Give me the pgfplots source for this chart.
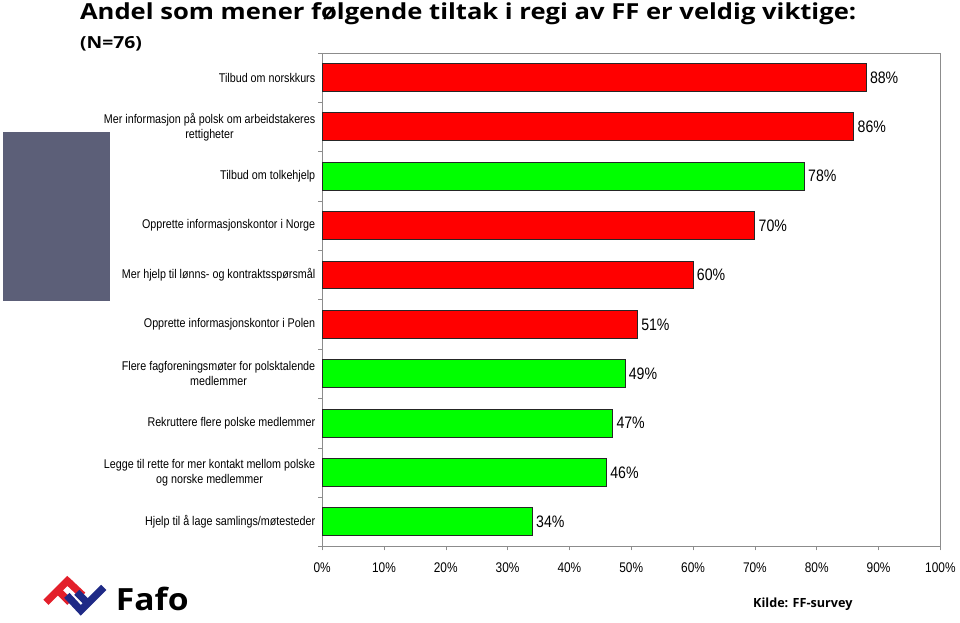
\documentclass[border=0pt]{standalone}
\usepackage{pgfplots}
\pgfplotsset{compat=1.18}
\usepackage{fontspec}
\setmainfont{Liberation Sans}
\newfontfamily\cond[FakeStretch=0.85]{Liberation Sans}
\newfontfamily\titlefont[FakeStretch=1.16]{Open Sans}
\newfontfamily\logofont[FakeStretch=1.1]{Open Sans}
\newfontfamily\srcfont{Open Sans}
\definecolor{barred}{HTML}{FF0000}
\definecolor{bargreen}{HTML}{00FF00}
\definecolor{slate}{HTML}{5C5F78}
\definecolor{fafored}{HTML}{E3202B}
\definecolor{fafoblue}{HTML}{1F2A86}
\definecolor{axgray}{HTML}{8C8C8C}
\begin{document}
\begin{tikzpicture}
\begin{scope}[x=0.75pt,y=-0.75pt]
\path[use as bounding box] (0,0) rectangle (960,624);
\fill[slate] (3,132) rectangle (110,302);
\node[anchor=base west, inner sep=0, font=\titlefont\bfseries\fontsize{16.6}{19}\selectfont] at (80,20) {Andel som mener følgende tiltak i regi av FF er veldig viktige:};
\node[anchor=base west, inner sep=0, font=\titlefont\bfseries\fontsize{12.5}{14}\selectfont] at (80,49) {(N=76)};
\node[anchor=base west, inner sep=0, font=\srcfont\bfseries\fontsize{9.5}{12}\selectfont] at (755,609) {Kilde: FF-survey};
\node[anchor=base west, inner sep=0, font=\logofont\bfseries\fontsize{23}{26}\selectfont] at (116,612) {Fafo};
% logo
\draw[fafored, line width=5.5pt] (46,604) -- (70,580);
\draw[fafored, line width=5.5pt] (67,582) -- (83,597);
\draw[fafored, line width=5.5pt] (58,592) -- (70,604);
\draw[fafoblue, line width=5.5pt, line join=miter] (67,597) -- (81,612) -- (104,589);
\draw[fafoblue, line width=5.5pt] (77,594) -- (86,603);
\end{scope}
\begin{axis}[
  at={(242.25pt,-411pt)}, anchor=south west, scale only axis,
  width=465pt, height=371.25pt,
  xbar, bar width=21pt,
  xmin=0, xmax=100, ymin=0.5, ymax=10.5, y dir=reverse,
  /pgf/number format/assume math mode=true,
  xtick={0,10,...,100},
  xticklabel={\pgfmathprintnumber{\tick}\%},
  ytick={1,...,10},
  yticklabels={
    Tilbud om norskkurs,
    {Mer informasjon på polsk om arbeidstakeres\\rettigheter},
    Tilbud om tolkehjelp,
    Opprette informasjonskontor i Norge,
    Mer hjelp til lønns- og kontraktsspørsmål,
    Opprette informasjonskontor i Polen,
    {Flere fagforeningsmøter for polsktalende\\medlemmer},
    Rekruttere flere polske medlemmer,
    {Legge til rette for mer kontakt mellom polske\\og norske medlemmer},
    Hjelp til å lage samlings/møtesteder},
  yticklabel style={align=center, font=\cond\fontsize{9.5}{11.25}\selectfont, inner sep=2pt},
  xticklabel style={font=\cond\fontsize{10.5}{12}\selectfont, yshift=-6pt},
  minor ytick={0.5,1.5,...,10.5},
  major y tick style={draw=none},
  tick align=outside, major tick length=3pt, minor tick length=3pt,
  xtick pos=bottom, ytick pos=left,
  axis line style={axgray}, every tick/.style={axgray},
  point meta=x,
  nodes near coords={\pgfmathprintnumber{\pgfplotspointmeta}\%},
  nodes near coords style={font=\cond\fontsize{12.5}{14}\selectfont, anchor=west, text=black, inner sep=2.5pt},
]
\addplot[fill=barred, draw=black!85, line width=0.75pt, bar shift=0pt] coordinates {(88,1) (86,2) (70,4) (60,5) (51,6)};
\addplot[fill=bargreen, draw=black!85, line width=0.75pt, bar shift=0pt] coordinates {(78,3) (49,7) (47,8) (46,9) (34,10)};
\end{axis}
\end{tikzpicture}
\end{document}
